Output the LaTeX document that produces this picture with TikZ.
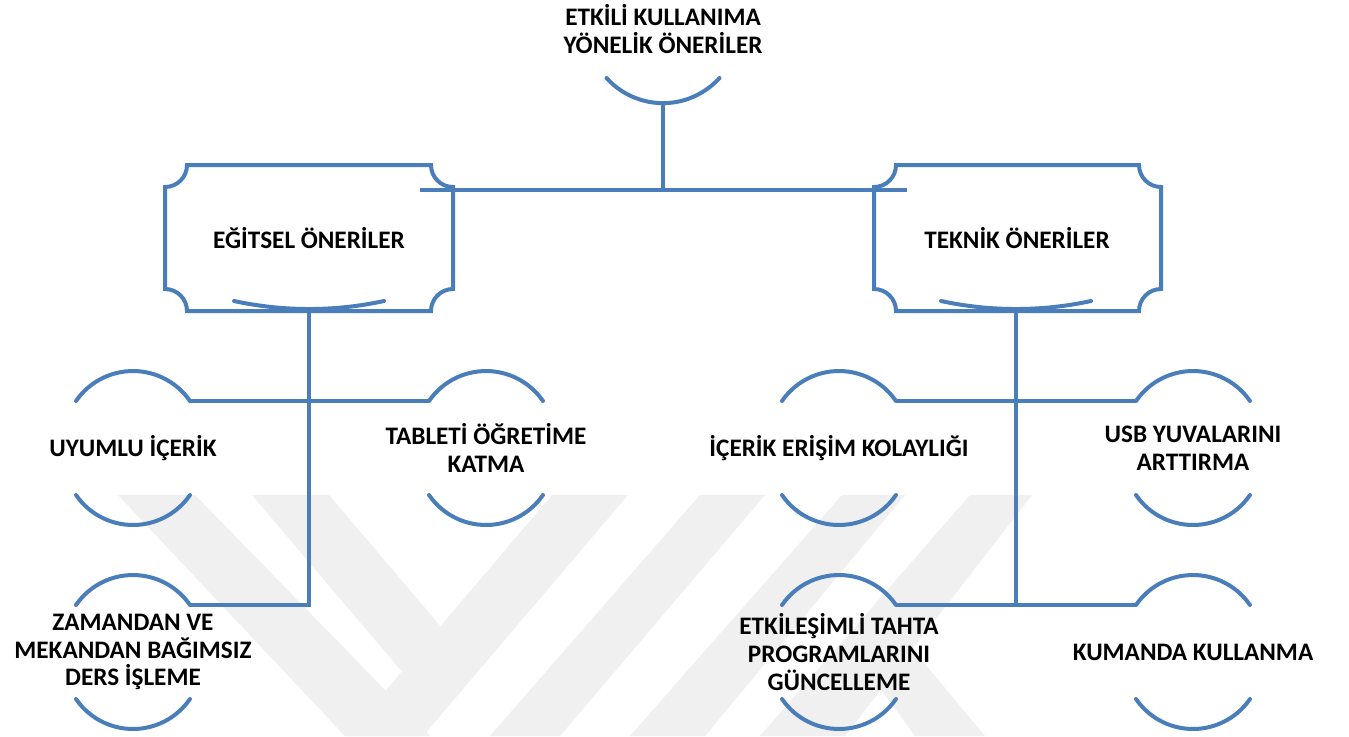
\documentclass[tikz,border=0pt]{standalone}
\usepackage{fontspec}
\setmainfont{Carlito}
\usetikzlibrary{calc}
\definecolor{boxblue}{RGB}{74,126,187}
\definecolor{ghostgray}{RGB}{240,240,240}
\begin{document}
\begin{tikzpicture}[x=0.5pt,y=-0.5pt,
  wire/.style={draw=boxblue,line width=2pt},
  bow/.style={draw=boxblue,line width=2pt,line cap=round},
  ghost/.style={fill=ghostgray},
  txt/.style={align=center,inner sep=0pt,font=\fontsize{12.6}{13.8}\selectfont\bfseries}]
\fill[white] (0,0) rectangle (1349,736);
\useasboundingbox (0,0) rectangle (1349,736);
\fill[ghost] (118,495) -- (195,495) -- (430,736) -- (345,736) -- cycle;
\fill[ghost] (252,495) -- (329,495) -- (459,648) -- (421,694) -- cycle;
\fill[ghost] (552,495) -- (628,495) -- (423,736) -- (347,736) -- cycle;
\fill[ghost] (700,495) -- (765,495) -- (560,736) -- (490,736) -- cycle;
\fill[ghost] (842,495) -- (905,495) -- (705,736) -- (630,736) -- cycle;
\fill[ghost] (970,495) -- (1032,495) -- (845,736) -- (760,736) -- cycle;
\fill[ghost] (845,640) -- (905,640) -- (985,736) -- (915,736) -- cycle;
\coordinate (Kalt) at (663,103);
\coordinate (Kbar) at (663,190);
\coordinate (Ebar) at (420,190);
\coordinate (Tbar) at (907,190);
\coordinate (Ealt) at (309,309);
\coordinate (Ekol) at (309,605);
\coordinate (Talt) at (1016,309);
\coordinate (Tkol) at (1016,605);
\node[txt] (K) at (663,29) {ETKİLİ KULLANIMA\\YÖNELİK ÖNERİLER};
\node[txt] (E) at (309,238) {EĞİTSEL ÖNERİLER};
\node[txt] (T) at (1017,238) {TEKNİK ÖNERİLER};
\node[txt] (E1) at (133,448) {UYUMLU İÇERİK};
\node[txt] (E2) at (486,448) {TABLETİ ÖĞRETİME\\KATMA};
\node[txt] (E3) at (133,652) {ZAMANDAN VE\\MEKANDAN BAĞIMSIZ\\DERS İŞLEME};
\node[txt] (T1) at (839,448) {İÇERİK ERİŞİM KOLAYLIĞI};
\node[txt] (T2) at (1193,448) {USB YUVALARINI\\ARTTIRMA};
\node[txt] (T3) at (839,652) {ETKİLEŞİMLİ TAHTA\\PROGRAMLARINI\\GÜNCELLEME};
\node[txt] (T4) at (1193,652) {KUMANDA KULLANMA};
\draw[bow] (606.5,78) arc[start angle=138,end angle=42,radius=76];
\draw[wire] (Kalt) -- (Kbar);
\draw[wire] (Ebar) -- (Tbar);
\draw[wire] (187,165) -- (431,165) arc[start angle=180,end angle=90,radius=22]
  -- (453,289) arc[start angle=270,end angle=180,radius=22]
  -- (187,311) arc[start angle=0,end angle=-90,radius=22]
  -- (165,187) arc[start angle=90,end angle=0,radius=22] -- cycle;
\draw[wire] (896,165) -- (1139,165) arc[start angle=180,end angle=90,radius=22]
  -- (1161,289) arc[start angle=270,end angle=180,radius=22]
  -- (896,311) arc[start angle=0,end angle=-90,radius=22]
  -- (874,187) arc[start angle=90,end angle=0,radius=22] -- cycle;
\draw[bow] (234,301) arc[start angle=102.2,end angle=77.8,radius=355];
\draw[bow] (941,301) arc[start angle=102.2,end angle=77.8,radius=355];
\foreach \leaf in {E1,E2,E3,T1,T2,T3,T4}{
  \draw[bow] ($(\leaf)+(-57,-47)$) arc[start angle=214.5,end angle=325.5,radius=69.15];
  \draw[bow] ($(\leaf)+(-57,47)$) arc[start angle=145.5,end angle=34.5,radius=69.15];
}
\draw[wire] (Ealt) -- (Ekol) -- ($(E3)+(57,-47)$);
\draw[wire] ($(E1)+(57,-47)$) -- ($(E2)+(-57,-47)$);
\draw[wire] (Talt) -- (Tkol);
\draw[wire] ($(T1)+(57,-47)$) -- ($(T2)+(-57,-47)$);
\draw[wire] ($(T3)+(57,-47)$) -- ($(T4)+(-57,-47)$);
\end{tikzpicture}
\end{document}
